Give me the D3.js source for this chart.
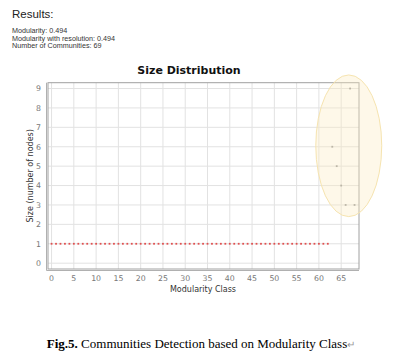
<!DOCTYPE html>
<html>
<head>
<meta charset="utf-8">
<script src="https://cdn.jsdelivr.net/npm/d3@7"></script>
<style>
  body { margin: 0; background: #fff; }
  svg { display: block; }
</style>
</head>
<body>
<svg id="chart" width="398" height="363"></svg>
<script>
// results block
const resultLines = ['Modularity: 0.494', 'Modularity with resolution: 0.494', 'Number of Communities: 69'];

// modularity classes and their sizes (classes 0..62 have 1 node each)
const classes = d3.range(0, 69);
const sizes = [
  1, 1, 1, 1, 1, 1, 1, 1, 1, 1,
  1, 1, 1, 1, 1, 1, 1, 1, 1, 1,
  1, 1, 1, 1, 1, 1, 1, 1, 1, 1,
  1, 1, 1, 1, 1, 1, 1, 1, 1, 1,
  1, 1, 1, 1, 1, 1, 1, 1, 1, 1,
  1, 1, 1, 1, 1, 1, 1, 1, 1, 1,
  1, 1, 1, 6, 5, 4, 3, 9, 3
];
const xTicks = d3.range(0, 70, 5);
const yTicks = d3.range(0, 10);

// highlight ellipse, in data units
const highlight = { cx: 66.7, cy: 6.05, rx: 7.4, ry: 3.65 };

const svg = d3.select('#chart');
const plotL = 48, plotR = 359, plotT = 82.7, plotB = 269;

const x = d3.scaleLinear().domain([-0.8, 69]).range([plotL, plotR]);
const y = d3.scaleLinear().domain([-0.3, 9.3]).range([plotB, plotT]);

// header text
svg.append('text')
  .attr('x', 12).attr('y', 18)
  .attr('font-family', 'Liberation Sans, Arial, sans-serif')
  .attr('font-size', 11.5)
  .attr('fill', '#222')
  .text('Results:');

svg.selectAll('.res')
  .data(resultLines)
  .enter()
  .append('text')
  .attr('class', 'res')
  .attr('x', 12)
  .attr('y', (d, i) => 33 + i * 7.6)
  .attr('font-family', 'Liberation Sans, Arial, sans-serif')
  .attr('font-size', 7.2)
  .attr('fill', '#333')
  .text(d => d);

// title
svg.append('text')
  .attr('x', 189).attr('y', 74)
  .attr('text-anchor', 'middle')
  .attr('font-family', 'DejaVu Sans, sans-serif')
  .attr('font-weight', 'bold')
  .attr('font-size', 11)
  .attr('fill', '#111')
  .text('Size Distribution');

// grid
const grid = svg.append('g');
grid.selectAll('.gx')
  .data(xTicks)
  .enter()
  .append('line')
  .attr('x1', d => x(d)).attr('x2', d => x(d))
  .attr('y1', plotT).attr('y2', plotB)
  .attr('stroke', '#e2e2e2').attr('stroke-width', 1);
grid.selectAll('.gy')
  .data(yTicks)
  .enter()
  .append('line')
  .attr('x1', plotL).attr('x2', plotR)
  .attr('y1', d => y(d)).attr('y2', d => y(d))
  .attr('stroke', '#e2e2e2').attr('stroke-width', 1);

// plot border
svg.append('rect')
  .attr('x', plotL).attr('y', plotT)
  .attr('width', plotR - plotL).attr('height', plotB - plotT)
  .attr('fill', 'none')
  .attr('stroke', '#a0a0a0').attr('stroke-width', 1);

// axis lines, offset a little from the plot
svg.append('line')
  .attr('x1', plotL - 1.5).attr('x2', plotL - 1.5)
  .attr('y1', plotT).attr('y2', plotB + 1.5)
  .attr('stroke', '#b0b0b0');
svg.append('line')
  .attr('x1', plotL - 1.5).attr('x2', plotR)
  .attr('y1', plotB + 1.5).attr('y2', plotB + 1.5)
  .attr('stroke', '#b0b0b0');

// tick labels
svg.selectAll('.yt')
  .data(yTicks)
  .enter()
  .append('text')
  .attr('x', 41)
  .attr('y', d => y(d) + 2.8)
  .attr('text-anchor', 'end')
  .attr('font-family', 'DejaVu Sans, sans-serif')
  .attr('font-size', 7.8)
  .attr('fill', '#777')
  .text(d => d);

svg.selectAll('.xt')
  .data(xTicks)
  .enter()
  .append('text')
  .attr('x', d => x(d))
  .attr('y', 281)
  .attr('text-anchor', 'middle')
  .attr('font-family', 'DejaVu Sans, sans-serif')
  .attr('font-size', 7.8)
  .attr('fill', '#777')
  .text(d => d);

// axis labels
svg.append('text')
  .attr('transform', `translate(33,${(plotT + plotB) / 2}) rotate(-90)`)
  .attr('text-anchor', 'middle')
  .attr('font-family', 'DejaVu Sans, sans-serif')
  .attr('font-size', 8)
  .attr('fill', '#333')
  .text('Size (number of nodes)');

svg.append('text')
  .attr('x', 203).attr('y', 292)
  .attr('text-anchor', 'middle')
  .attr('font-family', 'DejaVu Sans, sans-serif')
  .attr('font-size', 8)
  .attr('fill', '#333')
  .text('Modularity Class');

// points
const pts = classes.map((c, i) => ({ c: c, s: sizes[i] }));
svg.selectAll('.pt')
  .data(pts)
  .enter()
  .append('rect')
  .attr('class', 'pt')
  .attr('x', d => x(d.c) - 0.9)
  .attr('y', d => y(d.s) - 0.9)
  .attr('width', 1.8).attr('height', 1.8)
  .attr('fill', d => d.s === 1 ? '#e05050' : '#9a9a9a');

// highlight ellipse over the cluster
svg.append('ellipse')
  .attr('cx', x(highlight.cx))
  .attr('cy', y(highlight.cy))
  .attr('rx', x(highlight.cx + highlight.rx) - x(highlight.cx))
  .attr('ry', y(highlight.cy - highlight.ry) - y(highlight.cy))
  .attr('fill', '#fbecc0').attr('fill-opacity', 0.35)
  .attr('stroke', '#f6e4b0').attr('stroke-width', 1);

// caption
const cap = svg.append('text')
  .attr('x', 201).attr('y', 348)
  .attr('text-anchor', 'middle')
  .attr('font-family', 'Liberation Serif, Times New Roman, serif')
  .attr('font-size', 13)
  .attr('fill', '#000');
cap.append('tspan').attr('font-weight', 'bold').text('Fig.5.');
cap.append('tspan').text(' Communities Detection based on Modularity Class');
cap.append('tspan').attr('fill', '#999').attr('font-size', 10).text('\u21B5');
</script>
</body>
</html>
